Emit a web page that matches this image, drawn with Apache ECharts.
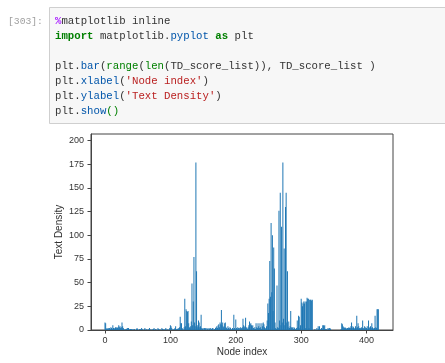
<!DOCTYPE html>
<html>
<head>
<meta charset="utf-8">
<script src="https://cdn.jsdelivr.net/npm/echarts@6/dist/echarts.min.js"></script>
<style>
html,body{margin:0;padding:0;background:#fff;}
#main{width:445px;height:363px;}
</style>
</head>
<body>
<div id="main"></div>
<script>
// Text Density per node, split into segments
const seg0 = [8,7,1,2,1,2,1,2,1,3,2,1,5,2,1,2,3,2,3,2,3,5,3,4,2,3,8,4,2,1,0,1,0,1,2,2,2,1,0,1,1,1,0,1,0,1,0,0,1,2,1,0,0,1,1,0,2,1,0,0,1,2,0,1,0,0,1,0,2,1,0,0,1,0,1,2,0,1,1,0,0,2,1,0,1,0,0,2,1,0,1,0,1,2,0,1,0,0,1,2];
const seg100 = [5,4,2,0,1,0,1,2,4,1,0,1,2,1,3,14,7,7,2,1,0,3,33,4,22,20,19,20,7,3,2,4,9,49,5,30,77,8,4,177,62,5,3,10,8,3,4,16,2,1,2,0,2,1,2,0,2,1,0,2,1,2,0,1,2,2,0,1,1,2,3,4,2,5,6,3,8,6,21,5,8,3,4,7,8,3,2,1,4,2,1,3,2,1,0,2,1,16,2,1];
const seg200 = [11,2,1,3,2,0,2,3,1,2,3,12,5,3,4,13,3,2,1,3,5,9,6,7,5,4,5,2,1,3,1,7,3,2,7,4,2,7,3,1,7,4,8,6,3,2,1,4,10,28,18,33,73,35,113,40,100,20,87,65,8,2,1,47,3,2,126,10,145,5,109,8,177,12,86,5,130,145,8,62,3,9,2,4,20,3,2,3,1,3,2,1,0,2,10,3,15,14,2,5];
const seg300 = [33,29,25,28,30,28,30,2,30,34,33,33,2,32,32,32,31,32,0,0,0,1,0,0,2,0,4,1,4,0,1,2,1,5,5,4,5,1,0,1,0,2,1,2,2,1,0,0,0,0,0,0,0,0,0,0,0,0,0,0,0,1,7,6,4,3,2,3,2,1,2,2,2,3,2,2,4,8,2,4,3,1,2,4,2,15,3,7,4,2,1,2,3,2,10,2,1,4,3,2,2,4,1,10,3,2,4,2,7,3,2,1,2,15,3,2,22,22,22,0];
const tdScores = seg0.concat(seg100, seg200, seg300);

const xTicks = [0, 100, 200, 300, 400];
const yTicks = [0, 25, 50, 75, 100, 125, 150, 175, 200];

const promptText = '[303]:';
const codeLines = [
  '{m|%}{t|matplotlib inline}',
  '{k|import}{t| matplotlib.}{b|pyplot}{t| }{k|as}{t| plt}',
  '',
  '{t|plt.}{b|bar}{t|(}{g|range}{t|(}{g|len}{t|(TD_score_list)), TD_score_list )}',
  "{t|plt.}{b|xlabel}{t|(}{s|'Node index'}{t|)}",
  "{t|plt.}{b|ylabel}{t|(}{s|'Text Density'}{t|)}",
  '{t|plt.}{b|show}{g|()}'
];

const MONO = '"Liberation Mono", "DejaVu Sans Mono", monospace';
const CFS = 10.7;
function rs(color, bold) {
  return {fill: color, fontFamily: MONO, fontSize: CFS, fontWeight: bold ? 'bold' : 'normal'};
}
const rich = {
  t: rs('#333333'), m: rs('#AA22FF', true), k: rs('#008000', true),
  b: rs('#0055AA'), g: rs('#008000'), s: rs('#BA2121')
};

const graphics = [
  {type: 'rect', shape: {x: 49.5, y: 7.5, width: 400, height: 116},
   style: {fill: '#f7f7f7', stroke: '#cfcfcf', lineWidth: 1}, z: 0},
  {type: 'text', x: 8, y: 21, z: 1,
   style: {text: promptText, fill: '#9e9e9e', font: '9.7px ' + MONO, verticalAlign: 'middle'}}
];
codeLines.forEach(function (ln, i) {
  if (!ln) return;
  graphics.push({type: 'text', x: 55, y: 21 + i * 15, z: 1,
    style: {text: ln, rich: rich, fontFamily: MONO, fontSize: CFS, verticalAlign: 'middle'}});
});

const chart = echarts.init(document.getElementById('main'), null, {renderer: 'canvas'});
const axisCol = '#444';
const labelStyle = {color: '#333', fontFamily: '"Liberation Sans", Arial, sans-serif', fontSize: 9};
chart.setOption({
  animation: false,
  backgroundColor: '#fff',
  graphic: graphics,
  grid: {left: 91, top: 134, right: 52, bottom: 33, show: true, borderColor: axisCol, borderWidth: 1, backgroundColor: 'transparent'},
  xAxis: {
    type: 'value', min: -21.4, max: 440.4,
    name: 'Node index', nameLocation: 'middle', nameGap: 17, nameMoveOverlap: false,
    nameTextStyle: {color: '#333', fontFamily: '"Liberation Sans", Arial, sans-serif', fontSize: 10},
    axisLine: {show: true, onZero: false, lineStyle: {color: axisCol, width: 1}},
    axisTick: {show: true, length: 3.5, inside: false, customValues: xTicks, lineStyle: {color: axisCol}},
    axisLabel: Object.assign({margin: 6, customValues: xTicks}, labelStyle),
    splitLine: {show: false}
  },
  yAxis: {
    type: 'value', min: 0, max: 207,
    name: 'Text Density', nameLocation: 'middle', nameGap: 27, nameRotate: 90, nameMoveOverlap: false,
    nameTextStyle: {color: '#333', fontFamily: '"Liberation Sans", Arial, sans-serif', fontSize: 10},
    axisLine: {show: true, onZero: false, lineStyle: {color: axisCol, width: 1}},
    axisTick: {show: true, length: 3.5, inside: false, customValues: yTicks, lineStyle: {color: axisCol}},
    axisLabel: Object.assign({margin: 7, customValues: yTicks}, labelStyle),
    splitLine: {show: false}
  },
  series: [{
    type: 'bar',
    data: tdScores.map(function (v, i) { return [i, v]; }),
    barWidth: 0.6,
    itemStyle: {color: '#1f77b4'},
    large: false
  }]
});
</script>
</body>
</html>
